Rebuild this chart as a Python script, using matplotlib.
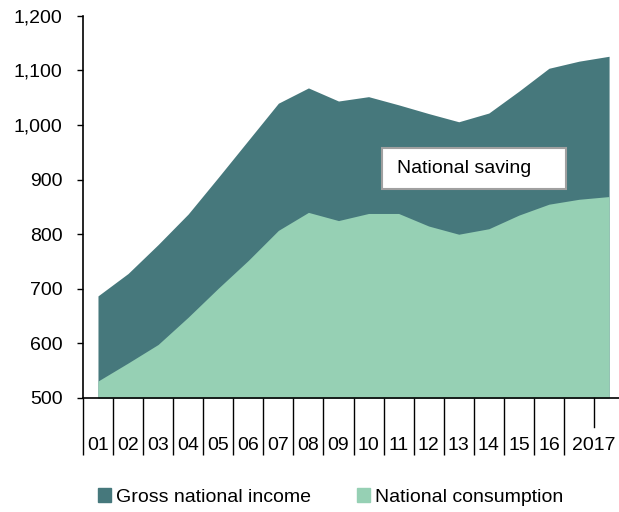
import matplotlib
matplotlib.use('Agg')
import matplotlib.pyplot as plt
from matplotlib.patches import Rectangle, Patch
from matplotlib.transforms import blended_transform_factory
from matplotlib.ticker import FuncFormatter

plt.rcParams['font.family'] = ['Liberation Sans', 'DejaVu Sans']
plt.rcParams['font.size'] = 14

# values, one point per year (18 points)
gross_income = [687, 728, 781, 837, 904, 972, 1040, 1068, 1044, 1052,
                1037, 1021, 1006, 1022, 1062, 1104, 1117, 1126]
consumption = [531, 564, 598, 648, 701, 752, 807, 840, 825, 838,
               838, 815, 800, 810, 835, 855, 864, 869]
year_labels = ['01', '02', '03', '04', '05', '06', '07', '08', '09', '10',
               '11', '12', '13', '14', '15', '16', '2017']
y_ticks = [500, 600, 700, 800, 900, 1000, 1100, 1200]

dark = '#46787c'
light = '#96d0b4'

fig = plt.figure(figsize=(6.19, 5.12), dpi=100)
ax = fig.add_axes([0.134, 0.2227, 0.866, 0.7463])

x = list(range(len(gross_income)))
ax.fill_between(x, 500, gross_income, color=dark, lw=0)
ax.fill_between(x, 500, consumption, color=light, lw=0)

ax.set_xlim(-0.5, 17.33)
ax.set_ylim(500, 1200)
ax.set_yticks(y_ticks)
ax.yaxis.set_major_formatter(FuncFormatter(lambda v, p: f'{v:,.0f}'))
ax.tick_params(axis='y', length=4.3, width=1, pad=10.5, labelsize=14)

for side in ['top', 'right']:
    ax.spines[side].set_visible(False)
for side in ['left', 'bottom']:
    ax.spines[side].set_linewidth(1.2)

# long separators between the years, labels centred in each slot
seps = [k - 0.5 for k in range(17)]
ax.set_xticks(seps)
ax.set_xticklabels([])
ax.tick_params(axis='x', which='major', length=41, width=1, direction='out')
label_pos = list(range(16)) + [16.5]
ax.set_xticks(label_pos, minor=True)
ax.set_xticklabels(year_labels, minor=True)
ax.tick_params(axis='x', which='minor', length=0, pad=28, labelsize=14)

# short tick under 2017
trans = blended_transform_factory(ax.transData, ax.transAxes)
ax.plot([16.5, 16.5], [0, -0.0759], transform=trans, color='black',
        lw=1, clip_on=False)

# "National saving" label box
ax.add_patch(Rectangle((9.45, 882), 6.12, 76, facecolor='white',
                       edgecolor='#a0a0a0', lw=1.5, zorder=3))
ax.text(9.95, 920, 'National saving', va='center', ha='left', zorder=4)

handles = [Patch(color=dark, label='Gross national income'),
           Patch(color=light, label='National consumption')]
fig.legend(handles=handles, loc='center', bbox_to_anchor=(0.534, 0.029),
           ncol=2, frameon=False, handlelength=0.65, handleheight=0.75,
           handletextpad=0.25, columnspacing=2.4, fontsize=14)

fig.savefig('out.png', dpi=100)
